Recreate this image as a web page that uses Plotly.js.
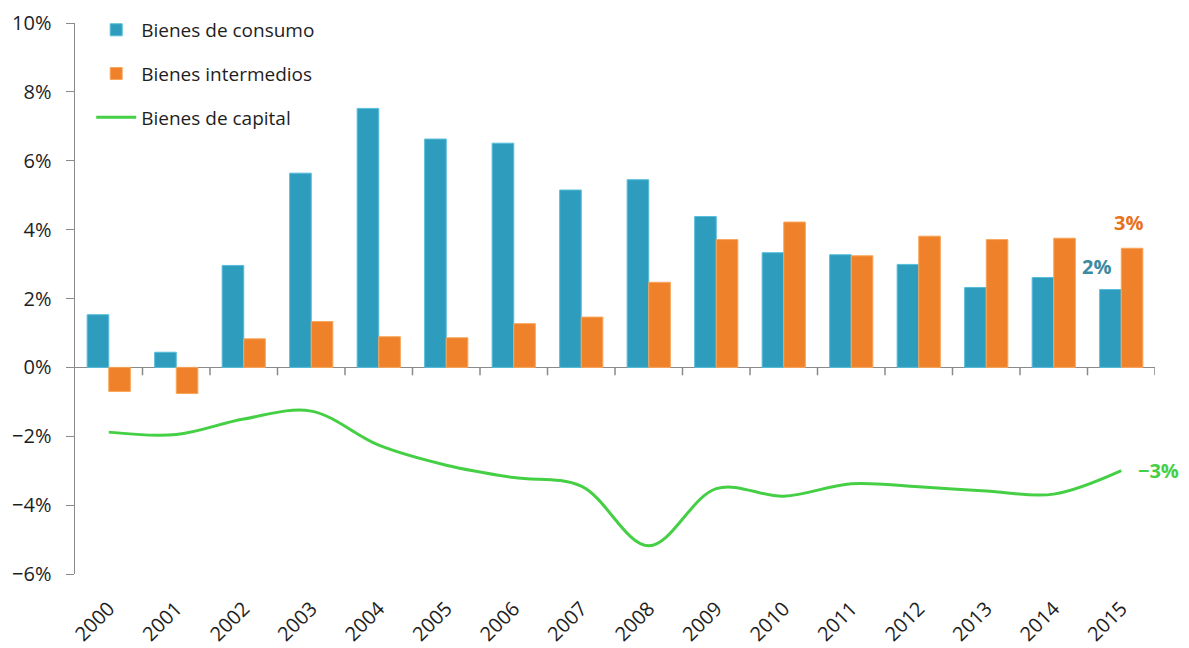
<!DOCTYPE html>
<html>
<head>
<meta charset="utf-8">
<script src="https://cdn.plot.ly/plotly-3.0.1.min.js"></script>
<style>html,body{margin:0;padding:0;background:#fff;}#chart{width:1189px;height:648px;}</style>
</head>
<body>
<div id="chart"></div>
<script>
const years = ["2000","2001","2002","2003","2004","2005","2006","2007","2008","2009","2010","2011","2012","2013","2014","2015"];
const consumo = [1.53, 0.44, 2.96, 5.64, 7.52, 6.63, 6.51, 5.15, 5.45, 4.38, 3.33, 3.27, 2.99, 2.32, 2.61, 2.26];
const intermedios = [-0.70, -0.76, 0.83, 1.33, 0.89, 0.86, 1.27, 1.46, 2.47, 3.71, 4.22, 3.24, 3.81, 3.71, 3.75, 3.46];
const capital = [-1.88, -1.95, -1.50, -1.27, -2.26, -2.84, -3.20, -3.45, -5.18, -3.52, -3.74, -3.38, -3.47, -3.59, -3.68, -3.00];
const seriesNames = ["Bienes de consumo", "Bienes intermedios", "Bienes de capital"];

const FONT = "'Open Sans', sans-serif";
const last = a => a[a.length - 1];
const fmt = v => (Math.round(v) < 0 ? "\u2212" + Math.abs(Math.round(v)) : Math.round(v)) + "%";
const n = years.length;

const traces = [
  {type: "bar", name: seriesNames[0], x: years, y: consumo, legendgroup: "a",
   marker: {color: "#2e9dbd", line: {color: "#56bddb", width: 1}}},
  {type: "bar", name: seriesNames[1], x: years, y: intermedios, legendgroup: "b",
   marker: {color: "#ee8129", line: {color: "#f9a65a", width: 1}}},
  {type: "scatter", mode: "lines", name: seriesNames[2], x: years, y: capital, legendgroup: "c",
   line: {color: "#45cf45", width: 3, shape: "spline", smoothing: 1}}
];

// small tick marks on the zero line at the category boundaries
const shapes = [];
for (let i = 1; i <= n; i++) {
  shapes.push({type: "line", xref: "x", yref: "y", x0: i - 0.5, x1: i - 0.5, y0: 0, y1: -0.23,
               line: {color: "#8a8a8a", width: 1.5}, layer: "above"});
}

const layout = {
  width: 1189, height: 648,
  margin: {l: 75, r: 34, t: 22, b: 74},
  paper_bgcolor: "#fff", plot_bgcolor: "#fff",
  font: {family: FONT, size: 20, color: "#1e1e1e"},
  barmode: "group", bargap: 0.36, bargroupgap: 0,
  showlegend: true,
  legend: {x: 0.015, y: 1.02, xanchor: "left", yanchor: "top", bgcolor: "rgba(0,0,0,0)",
           font: {family: FONT, size: 19, color: "#1e1e1e"}, tracegroupgap: 16, itemwidth: 40},
  xaxis: {type: "category", range: [-0.5, n - 0.5], autorange: false, automargin: false,
          showgrid: false, zeroline: false, showline: false,
          ticks: "outside", ticklen: 14, tickcolor: "rgba(0,0,0,0)", tickangle: -45,
          tickfont: {family: FONT, size: 20, color: "#1e1e1e"}},
  yaxis: {range: [-6, 10], dtick: 2, ticksuffix: "%", showgrid: false, automargin: false,
          zeroline: true, zerolinecolor: "#8a8a8a", zerolinewidth: 1.5,
          showline: true, linecolor: "#8a8a8a", linewidth: 1.5, ticks: "outside", ticklen: 8,
          tickcolor: "#8a8a8a", ticklabelstandoff: 10,
          tickfont: {family: FONT, size: 20, color: "#1e1e1e"}},
  shapes: shapes,
  annotations: [
    {xref: "x", yref: "y", x: n - 1 - 0.36, y: last(consumo) + 0.67, text: "<b>" + fmt(last(consumo)) + "</b>",
     showarrow: false, font: {family: FONT, size: 20, color: "#3a8aa2"}},
    {xref: "x", yref: "y", x: n - 1 + 0.1, y: last(intermedios) + 0.74, text: "<b>" + fmt(last(intermedios)) + "</b>",
     showarrow: false, font: {family: FONT, size: 20, color: "#e8721c"}},
    {xref: "x", yref: "y", x: n - 1 + 0.22, y: last(capital), xanchor: "left", text: "<b>" + fmt(last(capital)) + "</b>",
     showarrow: false, font: {family: FONT, size: 20, color: "#45cf45"}}
  ]
};

Plotly.newPlot("chart", traces, layout, {displayModeBar: false, staticPlot: true});
</script>
</body>
</html>
